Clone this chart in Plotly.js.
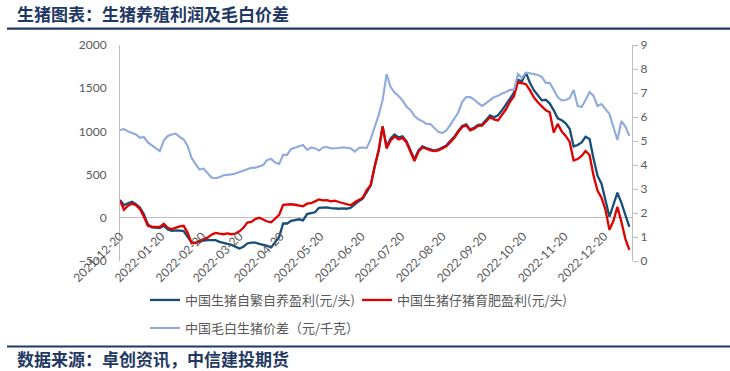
<!DOCTYPE html>
<html>
<head>
<meta charset="utf-8">
<script src="https://cdn.plot.ly/plotly-3.0.1.min.js"></script>
<style>
  html, body { margin: 0; padding: 0; background: #ffffff; }
  #chart { width: 730px; height: 371px; }
</style>
</head>
<body>
<div id="chart"></div>
<script>
// ---- data ----
const dates = [
  '2021-12-20','2021-12-23','2021-12-26','2021-12-29','2022-01-01','2022-01-04','2022-01-07','2022-01-10','2022-01-13','2022-01-16',
  '2022-01-19','2022-01-22','2022-01-25','2022-01-28','2022-01-31','2022-02-03','2022-02-06','2022-02-09','2022-02-12','2022-02-15',
  '2022-02-18','2022-02-21','2022-02-24','2022-02-27','2022-03-02','2022-03-05','2022-03-08','2022-03-11','2022-03-14','2022-03-17',
  '2022-03-20','2022-03-23','2022-03-26','2022-03-29','2022-04-01','2022-04-04','2022-04-07','2022-04-10','2022-04-13','2022-04-16',
  '2022-04-19','2022-04-22','2022-04-25','2022-04-28','2022-05-01','2022-05-04','2022-05-07','2022-05-10','2022-05-13','2022-05-16',
  '2022-05-19','2022-05-22','2022-05-25','2022-05-28','2022-05-31','2022-06-03','2022-06-06','2022-06-09','2022-06-12','2022-06-15',
  '2022-06-18','2022-06-21','2022-06-24','2022-06-27','2022-06-30','2022-07-03','2022-07-06','2022-07-09','2022-07-12','2022-07-15',
  '2022-07-18','2022-07-21','2022-07-24','2022-07-27','2022-07-30','2022-08-02','2022-08-05','2022-08-08','2022-08-11','2022-08-14',
  '2022-08-17','2022-08-20','2022-08-23','2022-08-26','2022-08-29','2022-09-01','2022-09-04','2022-09-07','2022-09-10','2022-09-13',
  '2022-09-16','2022-09-19','2022-09-22','2022-09-25','2022-09-28','2022-10-01','2022-10-04','2022-10-07','2022-10-10','2022-10-13',
  '2022-10-16','2022-10-19','2022-10-22','2022-10-25','2022-10-28','2022-10-31','2022-11-03','2022-11-06','2022-11-09','2022-11-12',
  '2022-11-15','2022-11-18','2022-11-21','2022-11-24','2022-11-27','2022-11-30','2022-12-03','2022-12-06','2022-12-09','2022-12-12',
  '2022-12-15','2022-12-18','2022-12-21','2022-12-24','2022-12-27','2022-12-30','2023-01-02','2023-01-05','2023-01-08'
];

// 中国生猪自繁自养盈利 (元/头) — left axis
const selfBreedProfit = [
  206, 145, 169, 186, 157, 120, 41, -76, -110, -116,
  -120, -93, -134, -151, -145, -149, -155, -221, -287, -287,
  -273, -264, -259, -259, -259, -279, -294, -302, -314, -331,
  -355, -335, -297, -287, -287, -302, -310, -326, -343, -285,
  -221, -64, -66, -35, -23, -17, -29, 43, 55, 64,
  116, 120, 120, 113, 108, 105, 110, 105, 116, 159,
  192, 221, 300, 372, 593, 779, 1058, 826, 919, 965,
  930, 942, 884, 779, 674, 779, 826, 808, 791, 779,
  791, 814, 837, 890, 936, 1006, 1064, 1081, 1023, 1043,
  1076, 1081, 1134, 1186, 1163, 1186, 1244, 1314, 1390, 1448,
  1599, 1581, 1680, 1564, 1477, 1413, 1360, 1366, 1322, 1244,
  1151, 1128, 1093, 1031, 826, 843, 872, 938, 913, 686,
  488, 395, 209, 12, 151, 291, 174, 23, -105
];

// 中国生猪仔猪育肥盈利 (元/头) — left axis
const fatteningProfit = [
  198, 93, 140, 163, 145, 101, 12, -93, -105, -102,
  -105, -70, -116, -131, -116, -99, -93, -174, -294, -291,
  -267, -250, -230, -195, -174, -183, -190, -180, -190, -183,
  -157, -116, -55, -47, -15, 2, -17, -43, -52, -12,
  35, 151, 157, 157, 151, 142, 133, 163, 169, 190,
  212, 201, 203, 190, 198, 183, 171, 153, 145, 180,
  203, 233, 320, 378, 593, 779, 1058, 802, 895, 942,
  907, 924, 872, 767, 657, 767, 814, 799, 779, 771,
  779, 802, 826, 876, 924, 994, 1052, 1070, 1012, 1031,
  1064, 1066, 1116, 1163, 1140, 1128, 1192, 1256, 1343, 1407,
  1570, 1558, 1547, 1477, 1395, 1337, 1285, 1244, 1221, 988,
  1087, 1000, 948, 878, 663, 680, 715, 773, 727, 488,
  314, 233, 93, -140, -35, 128, -47, -244, -372
];

// 中国毛白生猪价差 (元/千克) — right axis
const priceSpread = [
  5.46, 5.50, 5.40, 5.35, 5.27, 5.13, 5.17, 4.94, 4.81, 4.71,
  4.58, 5.02, 5.21, 5.27, 5.31, 5.17, 5.06, 4.79, 4.29, 4.04,
  3.81, 3.85, 3.65, 3.48, 3.45, 3.49, 3.57, 3.58, 3.61, 3.65,
  3.70, 3.75, 3.83, 3.88, 3.89, 3.95, 4.00, 4.21, 4.25, 4.10,
  4.04, 4.42, 4.42, 4.67, 4.73, 4.79, 4.83, 4.63, 4.73, 4.70,
  4.60, 4.73, 4.75, 4.69, 4.69, 4.71, 4.74, 4.72, 4.69, 4.56,
  4.71, 4.73, 4.71, 5.08, 5.58, 6.08, 6.71, 7.79, 7.25, 7.02,
  6.88, 6.69, 6.43, 6.29, 6.04, 5.90, 5.83, 5.71, 5.71, 5.54,
  5.38, 5.33, 5.44, 5.67, 5.92, 6.19, 6.63, 6.83, 6.83, 6.73,
  6.58, 6.46, 6.58, 6.71, 6.83, 6.88, 6.98, 7.04, 7.13, 7.13,
  7.79, 7.63, 7.85, 7.82, 7.79, 7.75, 7.67, 7.42, 7.42, 7.15,
  6.83, 6.69, 6.71, 6.78, 7.13, 6.46, 6.42, 6.71, 7.04, 6.88,
  6.46, 6.54, 6.33, 6.13, 5.58, 5.04, 5.83, 5.60, 5.21
];

const seriesNames = ['中国生猪自繁自养盈利(元/头)', '中国生猪仔猪育肥盈利(元/头)', '中国毛白生猪价差（元/千克）'];
const xTickVals = ['2021-12-20','2022-01-20','2022-02-20','2022-03-20','2022-04-20','2022-05-20','2022-06-20',
                   '2022-07-20','2022-08-20','2022-09-20','2022-10-20','2022-11-20','2022-12-20'];
const chartTitle = '生猪图表：生猪养殖利润及毛白价差';
const sourceText = '数据来源：卓创资讯，中信建投期货';

// ---- figure ----
const W = 730, H = 371;
const M = {l: 120, r: 98, t: 45, b: 110};
const pw = W - M.l - M.r, ph = H - M.t - M.b;
const px = x => (x - M.l) / pw;          // pixel -> paper x
const py = y => (H - M.b - y) / ph;      // pixel -> paper y

const FONT = "Lato, 'Noto Sans CJK SC', sans-serif";
const CJK = "'Noto Sans CJK SC', sans-serif";
const NAVY = '#1F3864';
const GREY = '#BFBFBF';
const TXT = '#595959';

const traces = [
  {x: dates, y: selfBreedProfit, name: seriesNames[0], type: 'scatter', mode: 'lines',
   line: {color: '#174E78', width: 2.3}, yaxis: 'y', legend: 'legend'},
  {x: dates, y: fatteningProfit, name: seriesNames[1], type: 'scatter', mode: 'lines',
   line: {color: '#E00000', width: 2.3}, yaxis: 'y', legend: 'legend'},
  {x: dates, y: priceSpread, name: seriesNames[2], type: 'scatter', mode: 'lines',
   line: {color: '#8FAADC', width: 2.1}, yaxis: 'y2', legend: 'legend2'}
];

const layout = {
  width: W, height: H,
  margin: M,
  paper_bgcolor: '#ffffff', plot_bgcolor: '#ffffff',
  font: {family: FONT, size: 12, color: TXT},
  showlegend: true,
  xaxis: {
    type: 'date', range: ['2021-12-20', '2023-01-10'],
    tickmode: 'array', tickvals: xTickVals, ticktext: xTickVals,
    tickangle: -45, anchor: 'free', position: py(217),
    showline: false, showgrid: false, zeroline: false, ticks: '',
    ticklabelstandoff: 9,
    tickfont: {size: 12, color: TXT}, automargin: false, fixedrange: true
  },
  yaxis: {
    range: [-500, 2000], dtick: 500, tick0: 0,
    showline: true, linecolor: GREY, linewidth: 1,
    zeroline: true, zerolinecolor: GREY, zerolinewidth: 1,
    showgrid: false, ticks: '', ticklabelstandoff: 10,
    tickfont: {size: 12, color: TXT}, automargin: false
  },
  yaxis2: {
    range: [0, 9], dtick: 1, tick0: 0, overlaying: 'y', side: 'right',
    showline: true, linecolor: GREY, linewidth: 1,
    ticks: 'outside', ticklen: 5, tickcolor: GREY,
    showgrid: false, zeroline: false,
    tickfont: {size: 12, color: TXT}, automargin: false
  },
  legend: {
    orientation: 'h', x: px(145), y: py(285), xanchor: 'left', yanchor: 'top',
    font: {family: CJK, size: 13, color: TXT}, entrywidth: 167, bgcolor: 'rgba(0,0,0,0)'
  },
  legend2: {
    orientation: 'h', x: px(145), y: py(313), xanchor: 'left', yanchor: 'top',
    font: {family: CJK, size: 13, color: TXT}, bgcolor: 'rgba(0,0,0,0)'
  },
  shapes: [
    {type: 'line', xref: 'paper', yref: 'paper', x0: px(7), x1: px(730), y0: py(28.7), y1: py(28.7),
     line: {color: NAVY, width: 2.2}},
    {type: 'line', xref: 'paper', yref: 'paper', x0: px(7), x1: px(730), y0: py(346.5), y1: py(346.5),
     line: {color: NAVY, width: 2.2}}
  ],
  annotations: [
    {text: '<b>' + chartTitle + '</b>', xref: 'paper', yref: 'paper', x: px(16), y: py(14),
     xanchor: 'left', yanchor: 'middle', showarrow: false, borderpad: 0,
     font: {family: CJK, size: 17, color: NAVY}},
    {text: '<b>' + sourceText + '</b>', xref: 'paper', yref: 'paper', x: px(16), y: py(358.5),
     xanchor: 'left', yanchor: 'middle', showarrow: false, borderpad: 0,
     font: {family: CJK, size: 17, color: NAVY}}
  ]
};

Plotly.newPlot('chart', traces, layout, {displayModeBar: false, staticPlot: true});
</script>
</body>
</html>
